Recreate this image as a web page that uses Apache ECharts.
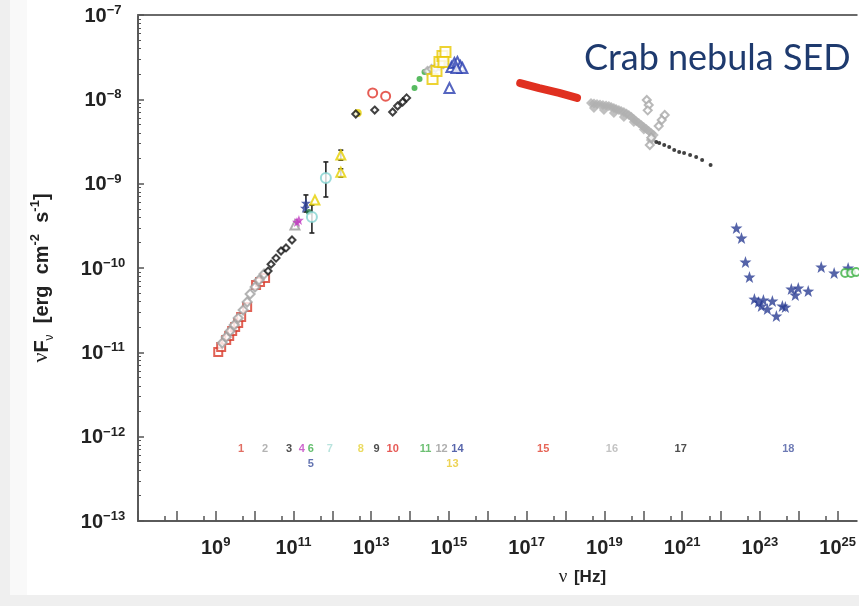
<!DOCTYPE html>
<html><head><meta charset="utf-8">
<script src="https://cdn.jsdelivr.net/npm/echarts@6/dist/echarts.min.js"></script>
<style>html,body{margin:0;padding:0;background:#fff}#c{width:859px;height:606px}</style>
</head><body><div id="c"></div><script>
// ---------- data: [frequency Hz, nuF_nu erg cm^-2 s^-1] ----------
const s1Red = [[1.16e9,1.01e-11],[1.38e9,1.16e-11],[1.86e9,1.40e-11],[2.22e9,1.56e-11],[2.65e9,1.79e-11],[3.16e9,2.0e-11],[3.78e9,2.23e-11],[4.51e9,2.62e-11],[6.43e9,3.44e-11],[1.09e10,6.28e-11],[1.38e10,6.82e-11],[1.86e10,7.6e-11]];
const s2Gray = [[1.47e9,1.29e-11],[1.86e9,1.52e-11],[2.35e9,1.79e-11],[2.98e9,2.11e-11],[3.78e9,2.55e-11],[5.07e9,3.18e-11],[6.43e9,3.95e-11],[7.67e9,4.92e-11],[1.03e10,5.96e-11],[1.30e10,7.21e-11],[1.75e10,8.49e-11]];
const s3Black = [[2.22e10,9.2e-11],[2.65e10,1.11e-10],[3.56e10,1.31e-10],[4.78e10,1.59e-10],[6.43e10,1.73e-10],[9.16e10,2.15e-10]];
const s4Magenta = [[1.23e11,3.51e-10],[1.38e11,3.71e-10]];
const s4Tri = [[1.09e11,3.24e-10]];
const s5Blue = [[1.97e11,5.14e-10],[2.09e11,5.9e-10]];
const s6Green = [[2.49e11,4.61e-10]];
const s7Cyan = [[2.98e11,4.03e-10],[6.81e11,1.17e-9]];
const s8YellowTri = [[3.56e11,6.4e-10],[1.65e12,2.19e-9],[1.65e12,1.37e-9]];
const s8YellowDot = [[4.51e12,6.89e-9]];
const s9Black = [[4.01e12,6.7e-9],[1.23e13,7.46e-9],[3.56e13,7.08e-9],[4.78e13,8.34e-9],[6.43e13,9.29e-9],[8.13e13,1.04e-8]];
const s10Red = [[1.09e13,1.19e-8],[2.35e13,1.09e-8]];
const s11Green = [[1.30e14,1.36e-8],[1.75e14,1.74e-8],[2.35e14,2.11e-8]];
const s12Gray = [[2.81e14,2.17e-8],[3.56e14,2.29e-8],[4.51e14,2.35e-8],[5.70e14,2.48e-8],[7.22e14,2.62e-8]];
const s13Yellow = [[3.78e14,1.74e-8],[4.78e14,2.17e-8],[5.70e14,2.77e-8],[6.81e14,3.27e-8],[8.13e14,3.64e-8],[7.22e14,2.77e-8]];
const s14Blue = [[1.03e15,1.36e-8],[1.16e15,2.42e-8],[1.38e15,2.70e-8],[1.65e15,2.77e-8],[1.97e15,2.48e-8],[2.22e15,2.35e-8],[1.56e15,2.35e-8]];
const s15Red = [[6.81e16,1.56e-8],[2.09e17,1.36e-8],[6.81e17,1.19e-8],[1.97e18,1.04e-8]];
const s16Band = [[4.51e18,9.04e-9],[5.4e18,8.9e-9],[6.43e18,8.81e-9],[7.7e18,8.7e-9],[9.16e18,8.57e-9],[1.1e19,8.45e-9],[1.30e19,8.34e-9],[1.5e19,8.1e-9],[1.75e19,7.89e-9],[2.0e19,7.7e-9],[2.35e19,7.46e-9],[2.7e19,7.25e-9],[3.16e19,7.08e-9],[3.7e19,6.8e-9],[4.25e19,6.52e-9],[4.9e19,6.2e-9],[5.70e19,5.85e-9],[6.6e19,5.5e-9],[7.67e19,5.24e-9],[8.9e19,4.95e-9],[1.03e20,4.7e-9],[1.2e20,4.45e-9],[1.38e20,4.21e-9],[1.6e20,4.0e-9],[1.86e20,3.78e-9],[5.38e18,7.89e-9],[9.7e18,7.46e-9],[1.75e19,6.89e-9],[3.16e19,6.17e-9],[5.7e19,5.38e-9],[1.03e20,4.4e-9],[1.56e20,3.30e-9]];
const s16Open = [[1.23e20,9.82e-9],[1.38e20,8.57e-9],[1.30e20,7.4e-9],[3.56e20,6.52e-9],[2.98e20,5.69e-9],[2.49e20,4.83e-9],[1.47e20,2.87e-9],[1.6e20,3.5e-9]];
const s17Black = [[2.15e20,3.12e-9],[2.57e20,3.03e-9],[3.45e20,2.87e-9],[4.64e20,2.72e-9],[6.24e20,2.51e-9],[8.38e20,2.37e-9],[1.12e21,2.31e-9],[1.6e21,2.19e-9],[2.29e21,2.07e-9],[3.26e21,1.91e-9],[5.38e21,1.66e-9]];
const s18Stars = [[2.49e22,2.98e-10],[3.36e22,2.27e-10],[4.25e22,1.18e-10],[5.38e22,7.82e-11],[7.22e22,4.28e-11],[9.16e22,3.95e-11],[1.09e23,3.54e-11],[1.23e23,4.17e-11],[1.56e23,3.26e-11],[2.09e23,4.06e-11],[2.65e23,2.70e-11],[3.78e23,3.54e-11],[4.51e23,3.44e-11],[6.43e23,5.64e-11],[8.13e23,4.79e-11],[9.7e23,5.80e-11],[1.75e24,5.33e-11],[3.78e24,1.03e-10],[8.13e24,8.73e-11],[1.86e25,1.0e-10]];
const s19Green = [[1.56e25,8.73e-11],[2.22e25,8.73e-11],[2.98e25,8.97e-11]];
// error bars: [nu, low, high]
const errBars = [[2.09e11,4.61e-10,7.35e-10],[2.98e11,2.6e-10,5.58e-10],[6.81e11,6.95e-10,1.81e-9],[1.65e12,1.9e-9,2.5e-9],[1.65e12,1.2e-9,1.5e-9]];
// numbered data-set labels: [text, nu, row]
const setLabels = [['1',4.51e9,1],['2',1.86e10,1],['3',7.67e10,1],['4',1.65e11,1],['6',2.81e11,1],['5',2.81e11,2],['7',8.63e11,1],['8',5.38e12,1],['9',1.38e13,1],['10',3.56e13,1],['11',2.49e14,1],['12',6.43e14,1],['14',1.65e15,1],['13',1.23e15,2],['15',2.65e17,1],['16',1.56e19,1],['17',9.16e20,1],['18',5.38e23,1]];
const setLabelColors = {'1':'#d94a3c','2':'#a0a0a0','3':'#222','4':'#c040c0','6':'#3cae48','5':'#3b4f9c','7':'#a6dcd4','8':'#e6d23a','9':'#222','10':'#e0302a','11':'#48b050','12':'#9a9a9a','14':'#2d3e96','13':'#e8c82a','15':'#e0402e','16':'#b4b4b4','17':'#222','18':'#4a5aa2'};
const rowFlux = {1:7.08e-13, 2:4.74e-13};
// axis range and ticks (exponents)
const X_MIN = 1e7, X_MAX = 3.1e25, Y_MIN = 1e-13, Y_MAX = 1e-7;
const xDecades = [7,8,9,10,11,12,13,14,15,16,17,18,19,20,21,22,23,24,25];
const xLabelExps = [9,11,13,15,17,19,21,23,25];
const yDecades = [-13,-12,-11,-10,-9,-8,-7];
const minorMult = [2,3,4,5,6,7,8,9];

const xMinE = Math.log10(X_MIN), xMaxE = Math.log10(X_MAX), yMinE = Math.log10(Y_MIN), yMaxE = Math.log10(Y_MAX);
const xMinor = xDecades.map(d => d + Math.log10(5)).filter(v => v < xMaxE);
const yMinor = [];
yDecades.slice(0,-1).forEach(d => minorMult.forEach(m => yMinor.push(d + Math.log10(m))));

const STAR = 'path://M0,-10L2.35,-3.24L9.51,-3.09L3.8,1.24L5.88,8.09L0,4L-5.88,8.09L-3.8,1.24L-9.51,-3.09L-2.35,-3.24Z';
const FONT = 'Liberation Sans';
const supLabel = v => '{b|10}{s|' + (v < 0 ? '\u2212' + (-v) : v) + '}';
const labelRich = {
  b: {fontSize: 20, fontWeight: 'bold', color: '#222', fontFamily: FONT, lineHeight: 22, verticalAlign: 'bottom'},
  s: {fontSize: 13, fontWeight: 'bold', color: '#222', fontFamily: FONT, lineHeight: 13, verticalAlign: 'top'}
};

function sc(name, data, symbol, color, size, opts) {
  const empty = symbol.indexOf('empty') === 0;
  return Object.assign({
    name, type: 'scatter', data, symbol, symbolSize: size, z: 5,
    itemStyle: {color: color, borderColor: color, borderWidth: empty ? 1.8 : 0},
    emphasis: {disabled: true}
  }, opts || {});
}

const chart = echarts.init(document.getElementById('c'), null, {renderer: 'canvas'});
chart.setOption({
  animation: false,
  backgroundColor: '#efefef',
  graphic: [
    {type: 'rect', z: -10, shape: {x: 10, y: 0, width: 849, height: 595}, style: {fill: '#f9f9f9'}},
    {type: 'rect', z: -9, shape: {x: 27, y: 0, width: 832, height: 595}, style: {fill: '#ffffff'}},
    {type: 'text', left: 584, top: 40, z: 20, style: {text: 'Crab nebula SED', fontFamily: 'Lato', fontSize: 36, fill: '#1e3a6e'}}
  ],
  grid: {left: 138, top: 15, right: 0, bottom: 85, show: false},
  xAxis: [
    {type: 'log', logBase: 10, min: X_MIN, max: X_MAX, position: 'bottom',
     axisLine: {lineStyle: {color: '#5a5a5a', width: 2}}, axisTick: {show: false}, axisLabel: {show: false}, splitLine: {show: false},
     name: '{n|\u03bd}  {h|[Hz]}', nameLocation: 'middle', nameGap: 47,
     nameTextStyle: {padding: [0, 0, 0, 170], rich: {n: {fontFamily: 'Liberation Serif', fontSize: 19, color: '#222'}, h: {fontFamily: FONT, fontWeight: 'bold', fontSize: 17, color: '#222'}}}},
    {type: 'value', min: xMinE, max: xMaxE, position: 'bottom', axisLine: {show: false}, splitLine: {show: false},
     axisTick: {show: true, inside: true, length: 10, customValues: xDecades, lineStyle: {color: '#555', width: 1.5}},
     axisLabel: {customValues: xLabelExps, formatter: supLabel, rich: labelRich, margin: 15}},
    {type: 'value', min: xMinE, max: xMaxE, position: 'bottom', axisLine: {show: false}, splitLine: {show: false}, axisLabel: {show: false},
     axisTick: {show: true, inside: true, length: 5, customValues: xMinor, lineStyle: {color: '#555', width: 1.5}}},
    {type: 'value', min: xMinE, max: xMaxE, position: 'top', axisLine: {show: true, lineStyle: {color: '#6a6a6a', width: 2}}, splitLine: {show: false}, axisLabel: {show: false}, axisTick: {show: false}}
  ],
  yAxis: [
    {type: 'log', logBase: 10, min: Y_MIN, max: Y_MAX, position: 'left',
     axisLine: {lineStyle: {color: '#5a5a5a', width: 2}}, axisTick: {show: false}, axisLabel: {show: false}, splitLine: {show: false},
     name: '{n|\u03bd}{f|F}{sub|\u03bd}{f|  [erg  cm}{sup|-2}{f|  s}{sup|-1}{f|]}', nameLocation: 'middle', nameGap: 86, nameRotate: 90,
     nameTextStyle: {padding: [0, 20, 0, 0], rich: {
       n: {fontFamily: 'Liberation Serif', fontSize: 22, color: '#222', lineHeight: 23, verticalAlign: 'bottom'},
       f: {fontFamily: FONT, fontWeight: 'bold', fontSize: 20, color: '#222', lineHeight: 23, verticalAlign: 'bottom'},
       sub: {fontFamily: FONT, fontSize: 12, color: '#222', lineHeight: 12, verticalAlign: 'bottom', padding: [0, 0, -4, 0]},
       sup: {fontFamily: FONT, fontWeight: 'bold', fontSize: 13, color: '#222', lineHeight: 13, verticalAlign: 'top'}}}},
    {type: 'value', min: yMinE, max: yMaxE, position: 'left', axisLine: {show: false}, splitLine: {show: false},
     axisTick: {show: true, inside: true, length: 6, customValues: yDecades, lineStyle: {color: '#555', width: 1.5}},
     axisLabel: {customValues: yDecades, formatter: supLabel, rich: labelRich, margin: 35, align: 'center'}},
    {type: 'value', min: yMinE, max: yMaxE, position: 'left', axisLine: {show: false}, splitLine: {show: false}, axisLabel: {show: false},
     axisTick: {show: true, inside: true, length: 3, customValues: yMinor, lineStyle: {color: '#555', width: 1}}}
  ],
  series: [
    {type: 'custom', name: 'errors', data: errBars, z: 3, encode: {x: 0, y: [1, 2]},
     renderItem: function (params, api) {
       const x = api.value(0);
       const p1 = api.coord([x, api.value(1)]), p2 = api.coord([x, api.value(2)]);
       const st = {stroke: '#222', lineWidth: 1.6};
       return {type: 'group', children: [
         {type: 'line', shape: {x1: p1[0], y1: p1[1], x2: p2[0], y2: p2[1]}, style: st},
         {type: 'line', shape: {x1: p1[0] - 2.5, y1: p1[1], x2: p1[0] + 2.5, y2: p1[1]}, style: st},
         {type: 'line', shape: {x1: p2[0] - 2.5, y1: p2[1], x2: p2[0] + 2.5, y2: p2[1]}, style: st}
       ]};
     }},
    sc('1', s1Red, 'emptyRect', '#d8392b', 8),
    sc('2', s2Gray, 'emptyDiamond', '#a0a0a0', 9),
    sc('3', s3Black, 'emptyDiamond', '#111', 7),
    sc('4t', s4Tri, 'emptyTriangle', '#999', 9),
    sc('4', s4Magenta, STAR, '#c03cc0', 10),
    sc('5', s5Blue, STAR, '#2a3f9a', 10),
    sc('6', s6Green, 'circle', '#1d6e3a', 6),
    sc('7', s7Cyan, 'emptyCircle', '#82d2d0', 10),
    sc('8', s8YellowTri, 'emptyTriangle', '#e6d000', 9),
    sc('8c', s8YellowDot, 'circle', '#e6d000', 8),
    sc('9', s9Black, 'emptyDiamond', '#111', 7),
    sc('10', s10Red, 'emptyCircle', '#e0352a', 9),
    sc('11', s11Green, 'circle', '#2eaa3a', 6),
    sc('12', s12Gray, 'emptyDiamond', '#aaa', 8),
    sc('13', s13Yellow, 'emptyRect', '#e8c800', 10),
    sc('14', s14Blue, 'emptyTriangle', '#2a3fb0', 10),
    {name: '15', type: 'line', data: s15Red, symbol: 'none', z: 5, lineStyle: {color: '#e03020', width: 8, cap: 'round'}, emphasis: {disabled: true}},
    sc('16', s16Band, 'diamond', '#b0b0b0', 10),
    sc('16o', s16Open, 'emptyDiamond', '#a8a8a8', 8),
    sc('17', s17Black, 'circle', '#111', 4),
    sc('18', s18Stars, STAR, '#2b3d93', 12),
    sc('19', s19Green, 'emptyCircle', '#3cb043', 8),
    {type: 'scatter', name: 'labels', symbolSize: 0.1, z: 6, itemStyle: {color: 'transparent'},
     data: setLabels.map(l => ({name: l[0], value: [l[1], rowFlux[l[2]]],
       label: {show: true, position: 'inside', formatter: '{b}', color: setLabelColors[l[0]], fontSize: 11, fontWeight: 'bold', fontFamily: FONT}})),
     emphasis: {disabled: true}}
  ]
});
</script></body></html>
